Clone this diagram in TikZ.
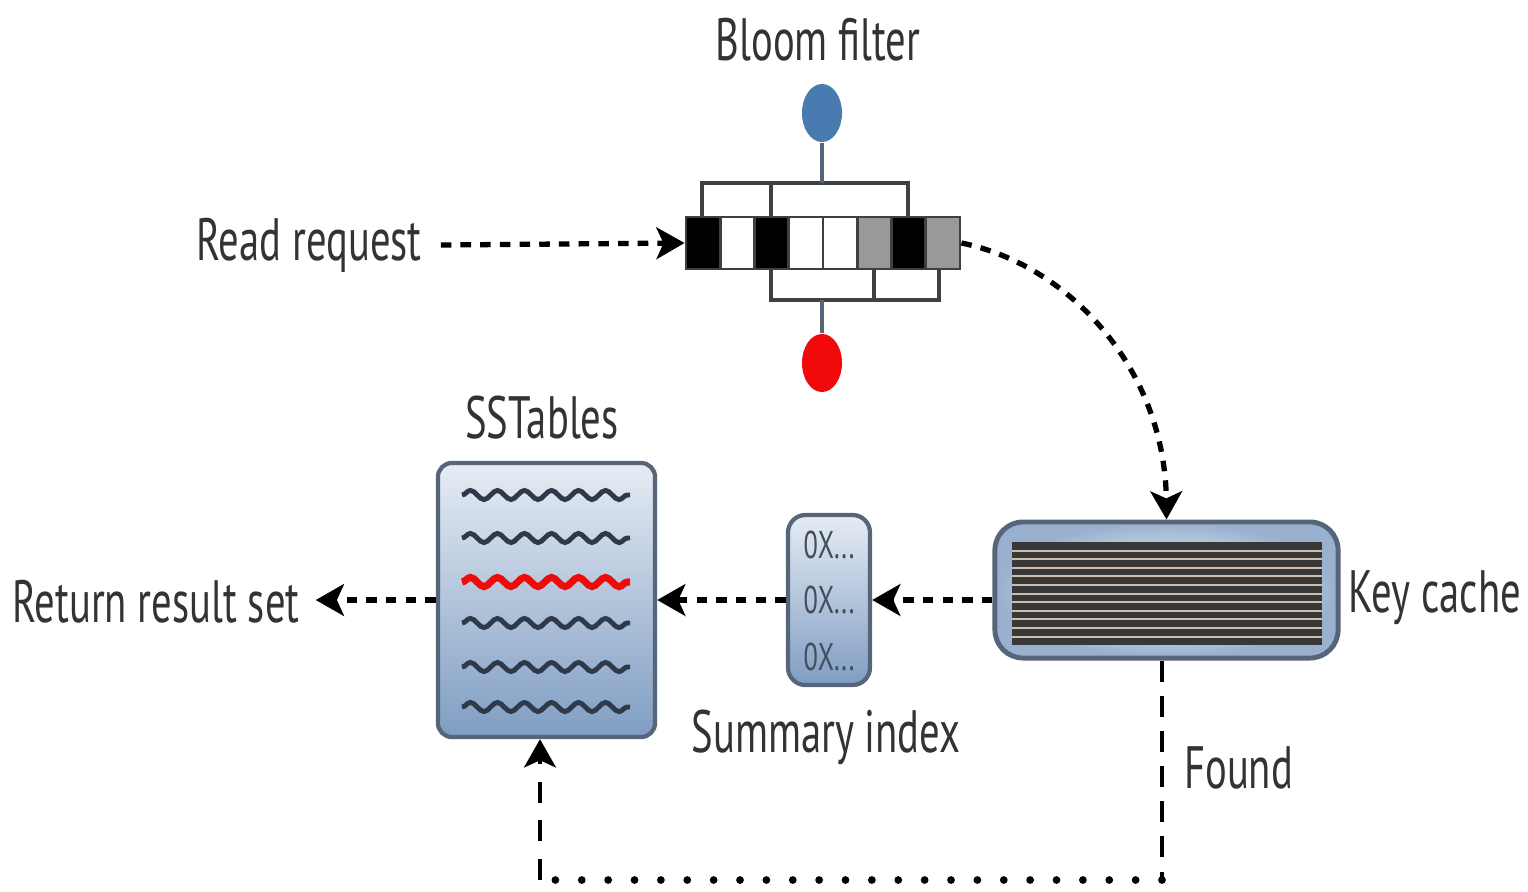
\documentclass[tikz,border=0pt]{standalone}
\usepackage{fontspec}
\setmainfont{PT Sans}[FakeStretch=0.68]
\usetikzlibrary{arrows.meta,shapes.geometric,decorations.pathmorphing}
\definecolor{bfblue}{HTML}{4A7BB0}
\definecolor{bfred}{HTML}{F00A0A}
\definecolor{txt}{HTML}{333333}
\definecolor{boxedge}{HTML}{56657A}
\definecolor{boxtop}{HTML}{E6ECF4}
\definecolor{boxbot}{HTML}{7F9DC2}
\definecolor{wave}{HTML}{2E3A4A}
\tikzset{
  lbl/.style={text=txt,font=\fontsize{17}{19}\selectfont,inner sep=1pt},
  cellbox/.style={draw=black!75,line width=0.8pt,minimum width=0.3425cm,minimum height=0.52cm,inner sep=0pt},
  brk/.style={draw=black!75,line width=1pt},
  dsh/.style={line width=1.5pt,dash pattern=on 3pt off 2.6pt},
  tip/.style={-{Stealth[length=8pt,width=9pt,inset=2pt]}},
  sbox/.style={draw=boxedge,line width=1.2pt,rounded corners=4pt,top color=boxtop,bottom color=boxbot,inner sep=0pt},
  wv/.style={draw=wave,line width=1.4pt,decorate,decoration={snake,amplitude=1.3pt,segment length=0.27cm}},
  hx/.style={text=wave!90,font=\fontsize{11}{12}\selectfont,inner sep=0pt}
}
\begin{document}
\begin{tikzpicture}[x=0.01cm,y=-0.01cm]
\useasboundingbox (0,0) rectangle (1528,891);
% Bloom filter
\node[lbl] (bloomlbl) at (818,40) {Bloom filter};
\node[ellipse,fill=bfblue,minimum width=0.40cm,minimum height=0.58cm,inner sep=0pt] (blue) at (822,113) {};
\node[ellipse,fill=bfred,minimum width=0.40cm,minimum height=0.58cm,inner sep=0pt] (red) at (822,363) {};
\foreach \i/\c in {1/black,2/white,3/black,4/white,5/white,6/black!40,7/black,8/black!40}{
  \node[cellbox,fill=\c] (cell\i) at ({686+34.25*(\i-0.5)},243) {};
}
\coordinate (ubr) at (822,183);
\coordinate (lbr) at (822,300);
\draw[brk] (702,217) -- (702,183) -- (908,183) -- (908,217);
\draw[brk] (771,183) -- (771,217);
\draw[brk] (771,269) -- (771,300) -- (939,300) -- (939,269);
\draw[brk] (874,300) -- (874,269);
\draw[draw=boxedge,line width=1.2pt] (blue.south) -- (ubr);
\draw[draw=boxedge,line width=1.2pt] (lbr) -- (red.north);
% Read request
\node[lbl] (readlbl) at (309,245) {Read request};
\draw[dsh,tip] ([xshift=0.15cm]readlbl.east) -- (cell1.west);
% SSTables
\node[lbl] (sslbl) at (542,418) {SSTables};
\node[sbox,minimum width=2.17cm,minimum height=2.74cm] (ss) at (546.5,600) {};
\foreach \y in {495,538,623,667,707}{
  \draw[wv] (462,\y) -- (630,\y);
}
\draw[wv,draw=bfred,line width=2pt] (462,582) -- (630,582);
% Return result set
\node[lbl] (retlbl) at (156,602) {Return result set};
\draw[dsh,tip] (ss.west) -- ([xshift=0.12cm]retlbl.east |- ss.west);
% Summary index
\node[sbox,minimum width=0.82cm,minimum height=1.70cm,rounded corners=5pt] (si) at (829,600) {};
\node[hx] (h1) at (829,545) {0X...};
\node[hx] (h2) at (829,600) {0X...};
\node[hx] (h3) at (829,657) {0X...};
\node[lbl] (silbl) at (826,737) {Summary index};
\draw[dsh,tip] (si.west) -- (ss.east);
% Key cache
\node[draw=boxedge,line width=1.4pt,rounded corners=8pt,inner color=white,outer color=boxbot!80,minimum width=3.43cm,minimum height=1.36cm,inner sep=0pt] (kc) at (1166.5,590) {};
\fill[black!78] (1012,542) rectangle (1322,645);
\foreach \k in {1,...,11}{
  \draw[black!30!brown!40,line width=0.6pt] (1012,{542+8.6*\k}) -- (1322,{542+8.6*\k});
}
\node[lbl] (kclbl) at (1435,598) {Key cache};
\draw[dsh,tip] (kc.west |- si.east) -- (si.east);
% curve from bloom filter to key cache
\draw[dsh,tip] (cell8.east) .. controls (1070,265) and (1165,370) .. (kc.north);
% Found path
\coordinate (fr) at (1162,880);
\coordinate (fl) at (540,880);
\draw[line width=1.4pt,dash pattern=on 6pt off 4pt] (kc.south -| fr) -- (fr);
\draw[line width=2.2pt,line cap=round,dash pattern=on 0pt off 7.5pt] (fr) -- (fl);
\draw[line width=1.4pt,dash pattern=on 6pt off 5pt,tip] (fl) -- (ss.south -| fl);
\node[lbl,anchor=west] (foundlbl) at (1180,768) {Found};
\end{tikzpicture}
\end{document}
